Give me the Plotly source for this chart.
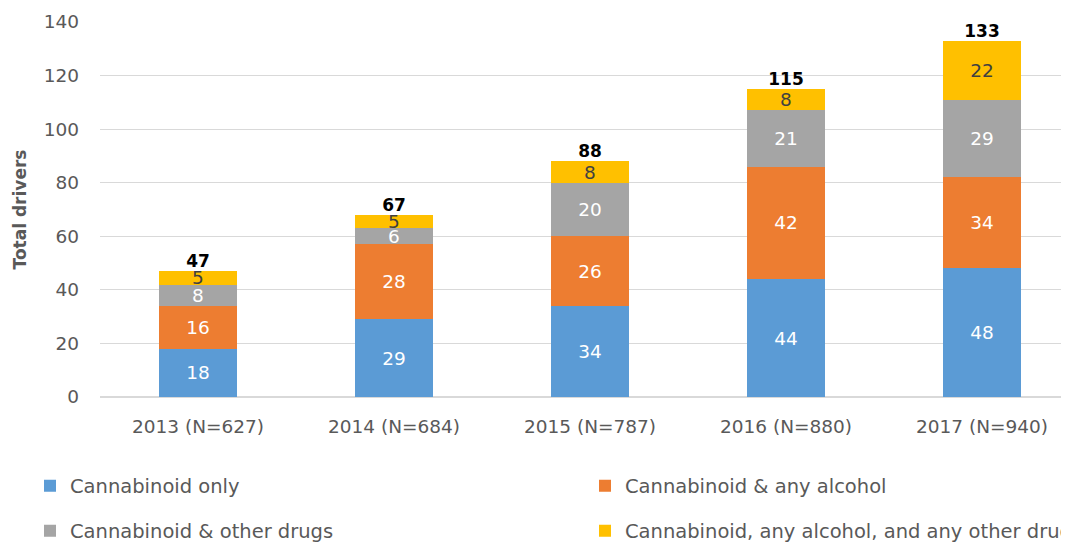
import plotly.graph_objects as go

categories = ["2013 (N=627)", "2014 (N=684)", "2015 (N=787)", "2016 (N=880)", "2017 (N=940)"]
cannabinoid_only = [18, 29, 34, 44, 48]
cannabinoid_alcohol = [16, 28, 26, 42, 34]
cannabinoid_other = [8, 6, 20, 21, 29]
cannabinoid_all = [5, 5, 8, 8, 22]
totals = [47, 67, 88, 115, 133]

series = [
    ("Cannabinoid only", cannabinoid_only, "#5B9BD5", "white", "legend"),
    ("Cannabinoid & any alcohol", cannabinoid_alcohol, "#ED7D31", "white", "legend2"),
    ("Cannabinoid & other drugs", cannabinoid_other, "#A5A5A5", "white", "legend3"),
    ("Cannabinoid, any alcohol, and any other drugs", cannabinoid_all, "#FFC000", "#404040", "legend4"),
]

FONT = "DejaVu Sans"
fig = go.Figure()
for name, vals, color, tcolor, lg in series:
    fig.add_trace(go.Bar(
        x=categories, y=vals, name=name, legend=lg,
        marker=dict(color=color, line=dict(width=0)),
        text=vals, texttemplate="%{y}", textposition="inside",
        insidetextanchor="middle", constraintext="none", textangle=0,
        textfont=dict(family=FONT, size=18.5, color=tcolor),
    ))

stack_tops = [a + b + c + d for a, b, c, d in zip(cannabinoid_only, cannabinoid_alcohol, cannabinoid_other, cannabinoid_all)]
fig.add_trace(go.Scatter(
    x=categories, y=stack_tops, text=totals, mode="text",
    textposition="top center", showlegend=False, hoverinfo="skip",
    textfont=dict(family=FONT, size=17, color="black", weight="bold"),
))

# page has an 8px body margin; plot area in page coords: x 100.., y 22..397
ML, MT, PH = 92, 14, 375
PW = 1069 - ML
def leg(xpx, ypx):
    return dict(orientation="h", x=(xpx - 100) / PW, xanchor="left",
                y=(397 - ypx) / PH, yanchor="middle",
                font=dict(family=FONT, size=19.5, color="#595959"),
                bgcolor="rgba(0,0,0,0)", traceorder="normal")

fig.update_layout(
    width=1069, height=546,
    margin=dict(l=ML, r=0, t=MT, b=546 - MT - PH, autoexpand=False),
    barmode="stack", bargap=0.6,
    plot_bgcolor="white", paper_bgcolor="white",
    font=dict(family=FONT, color="#595959"),
    legend=leg(30, 486),
    legend2=leg(585, 486),
    legend3=leg(30, 531),
    legend4=leg(585, 531),
)
fig.update_xaxes(range=[-0.5, -0.5 + PW / 196], showgrid=False, showline=False,
                 tickfont=dict(family=FONT, size=18.5, color="#595959"),
                 ticklabelstandoff=16)
fig.update_yaxes(range=[0, 140], dtick=20, showgrid=True, gridcolor="#D9D9D9", gridwidth=1.2,
                 zeroline=True, zerolinecolor="#D9D9D9", zerolinewidth=2, showline=False,
                 tickfont=dict(family=FONT, size=18.5, color="#595959"),
                 ticklabelstandoff=20,
                 title=dict(text="Total drivers", standoff=12,
                            font=dict(family=FONT, size=17, color="#595959", weight="bold")))

fig.write_html("out.html")
